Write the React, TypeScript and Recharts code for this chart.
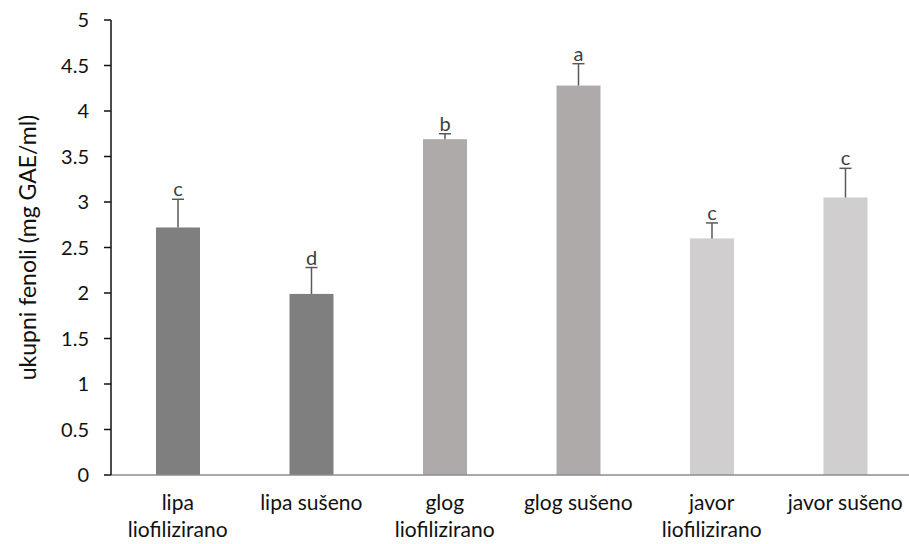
import { Bar, BarChart, Cell, XAxis, YAxis } from 'recharts'

const categories = [
  'lipa liofilizirano',
  'lipa sušeno',
  'glog liofilizirano',
  'glog sušeno',
  'javor liofilizirano',
  'javor sušeno',
]
const tickLines = [
  ['lipa', 'liofilizirano'],
  ['lipa sušeno'],
  ['glog', 'liofilizirano'],
  ['glog sušeno'],
  ['javor', 'liofilizirano'],
  ['javor sušeno'],
]
const means = [2.72, 1.99, 3.69, 4.28, 2.6, 3.05]
const errors = [0.31, 0.29, 0.06, 0.24, 0.17, 0.32]
const letters = ['c', 'd', 'b', 'a', 'c', 'c']
const barColours = ['#7f7f7f', '#7f7f7f', '#aeaaaa', '#aeaaaa', '#d0cece', '#d0cece']
const yTicks = [0, 0.5, 1, 1.5, 2, 2.5, 3, 3.5, 4, 4.5, 5]

const FONT = 'Lato, "Open Sans", sans-serif'
const TEXT_COLOUR = '#111'
const ERR_COLOUR = '#595959'

const data = categories.map((name, i) => ({
  name,
  value: means[i],
  err: errors[i],
  letter: letters[i],
}))

function BarWithError(props: any) {
  const { x, y, width, height, fill, payload } = props
  const perUnit = height / payload.value
  const cx = x + width / 2
  const top = y - payload.err * perUnit
  return (
    <g>
      <rect x={x} y={y} width={width} height={height} fill={fill} />
      <line x1={cx} x2={cx} y1={y} y2={top} stroke={ERR_COLOUR} strokeWidth={1.5} />
      <line x1={cx - 6} x2={cx + 6} y1={top} y2={top} stroke={ERR_COLOUR} strokeWidth={1.5} />
      <text x={cx} y={top - 3} textAnchor="middle" fontSize={20} fontFamily={FONT} fill="#404040">
        {payload.letter}
      </text>
    </g>
  )
}

function CategoryTick(props: any) {
  const { x, y, index } = props
  const lines = tickLines[index] || []
  return (
    <text x={x} y={y} textAnchor="middle" fontSize={21} fontFamily={FONT} fill={TEXT_COLOUR}>
      {lines.map((line, i) => (
        <tspan key={line} x={x} dy={i === 0 ? 33 : 27}>
          {line}
        </tspan>
      ))}
    </text>
  )
}

export default function App() {
  return (
    <div style={{ position: 'absolute', left: 0, top: 0, width: 909, height: 544, overflow: 'hidden', background: '#fff' }}>
      <BarChart
        width={912}
        height={544}
        data={data}
        margin={{ top: 20, right: 0, bottom: 0, left: 0 }}
        barCategoryGap="33.7%"
      >
        <XAxis
          dataKey="name"
          height={69}
          interval={0}
          tickLine={false}
          tickSize={0}
          axisLine={{ stroke: '#8c8c8c', strokeWidth: 1.5 }}
          tick={<CategoryTick />}
        />
        <YAxis
          width={111}
          domain={[0, 5]}
          ticks={yTicks}
          interval={0}
          tickSize={7}
          tickMargin={15}
          axisLine={{ stroke: '#111', strokeWidth: 1.5 }}
          tickLine={{ stroke: '#111', strokeWidth: 1.5 }}
          tick={{ fill: TEXT_COLOUR, fontSize: 20, fontFamily: FONT }}
          label={{
            value: 'ukupni fenoli (mg GAE/ml)',
            angle: -90,
            position: 'center',
            dx: -28,
            fill: TEXT_COLOUR,
            fontSize: 23,
            fontFamily: FONT,
          }}
        />
        <Bar dataKey="value" shape={<BarWithError />} isAnimationActive={false}>
          {data.map((d, i) => (
            <Cell key={d.name} fill={barColours[i]} />
          ))}
        </Bar>
      </BarChart>
    </div>
  )
}
